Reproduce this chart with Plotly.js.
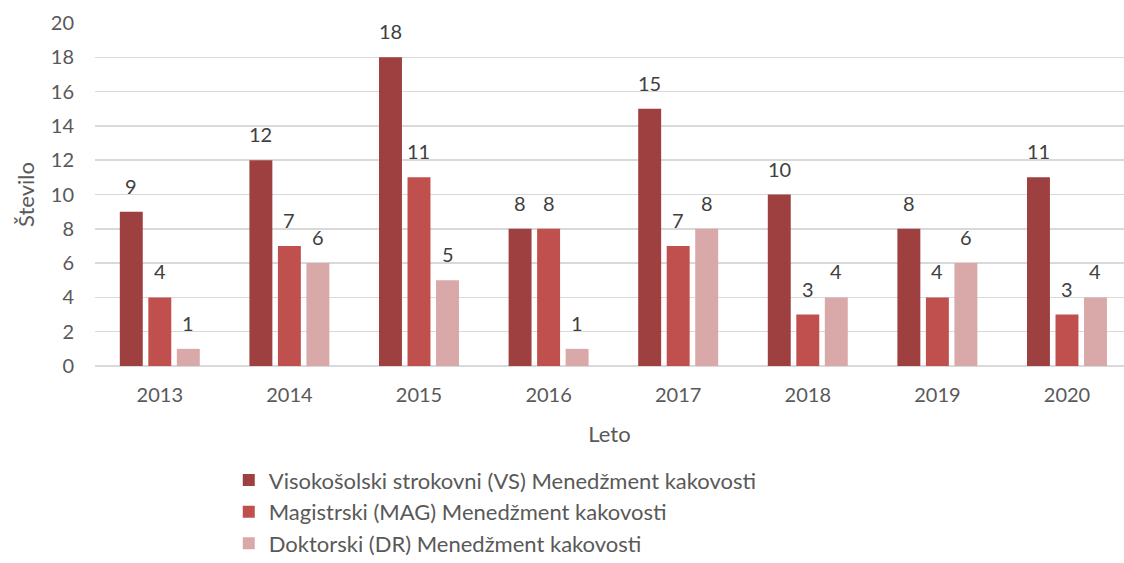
<!DOCTYPE html>
<html>
<head>
<meta charset="utf-8">
<script src="https://cdn.plot.ly/plotly-3.0.1.min.js"></script>
<style>html,body{margin:0;padding:0;background:#fff;}#chart{width:1124px;height:563px;}</style>
</head>
<body>
<div id="chart"></div>
<script>
const years = ['2013','2014','2015','2016','2017','2018','2019','2020'];
const seriesNames = [
  'Visokošolski strokovni (VS) Menedžment kakovosti',
  'Magistrski (MAG) Menedžment kakovosti',
  'Doktorski (DR) Menedžment kakovosti'
];
const vsValues  = [9, 12, 18, 8, 15, 10, 8, 11];
const magValues = [4, 7, 11, 8, 7, 3, 4, 3];
const drValues  = [1, 6, 5, 1, 8, 4, 6, 4];
const colors = ['#9E403F', '#C0504D', '#D9A9A9'];
const yTicks = [0, 2, 4, 6, 8, 10, 12, 14, 16, 18, 20];

const allValues = [vsValues, magValues, drValues];
const bargap = 0.34, slot = (1 - bargap) / 3;
const FONT = 'Lato, "Open Sans", sans-serif';

const traces = allValues.map((vals, k) => ({
  type: 'bar',
  name: seriesNames[k],
  x: years,
  y: vals,
  marker: {color: colors[k]},
  legendgroup: 'g' + k,
  hoverinfo: 'x+y'
}));

const annotations = [];
allValues.forEach((vals, k) => {
  vals.forEach((v, i) => {
    annotations.push({
      x: i + (k - 1) * slot,
      y: v,
      xref: 'x', yref: 'y',
      text: String(v),
      showarrow: false,
      yanchor: 'bottom',
      yshift: 12,
      font: {family: FONT, size: 20, color: '#404040'}
    });
  });
});

const layout = {
  width: 1124, height: 563,
  margin: {l: 95, r: 0, t: 23, b: 197, autoexpand: false},
  paper_bgcolor: '#fff', plot_bgcolor: '#fff',
  font: {family: FONT, size: 20, color: '#595959'},
  barmode: 'group',
  bargap: bargap,
  bargroupgap: 0.195,
  showlegend: true,
  legend: {
    orientation: 'v',
    x: 0.13, xanchor: 'left',
    y: -0.272, yanchor: 'top',
    font: {family: FONT, size: 22, color: '#595959'},
    tracegroupgap: 0,
    itemwidth: 30
  },
  xaxis: {
    type: 'category',
    range: [-0.5, 7.44],
    showgrid: false,
    showline: false,
    zeroline: false,
    ticks: '',
    ticklabelstandoff: 15,
    tickfont: {family: FONT, size: 20, color: '#595959'},
    title: {text: 'Leto', font: {family: FONT, size: 22, color: '#595959'}, standoff: 21}
  },
  yaxis: {
    range: [0, 20],
    tickvals: yTicks,
    ticktext: yTicks.map(String),
    showgrid: true,
    gridcolor: '#D9D9D9',
    gridwidth: 1.5,
    zeroline: true,
    zerolinecolor: '#D9D9D9',
    zerolinewidth: 1.5,
    showline: false,
    ticks: '',
    ticklabelstandoff: 20,
    tickfont: {family: FONT, size: 20, color: '#595959'},
    title: {text: 'Število', font: {family: FONT, size: 22, color: '#595959'}, standoff: 10}
  },
  annotations: annotations
};

Plotly.newPlot('chart', traces, layout, {displayModeBar: false, staticPlot: true});
</script>
</body>
</html>
